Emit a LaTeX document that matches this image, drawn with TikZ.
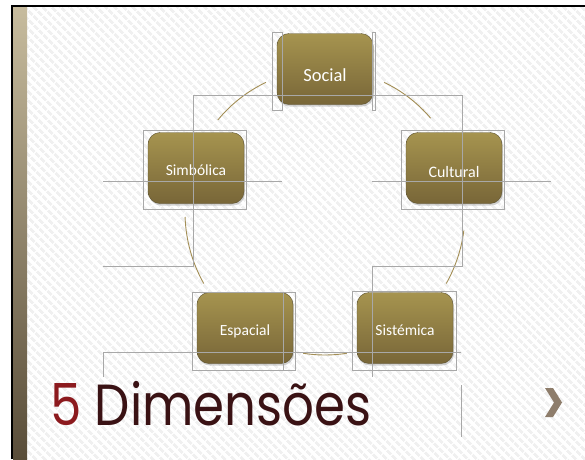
\documentclass[tikz,border=0pt]{standalone}
\usepackage{fontspec}
\setmainfont{Carlito}
\newfontfamily\titlefont[FakeStretch=0.86]{Poppins}
\usetikzlibrary{patterns.meta,shadows}

\definecolor{boxtop}{HTML}{A6944F}
\definecolor{boxbot}{HTML}{786638}
\definecolor{boxedge}{HTML}{5C5232}
\definecolor{bartop}{HTML}{C7BC9E}
\definecolor{barbot}{HTML}{594D39}
\definecolor{guidegray}{HTML}{A8A8A8}
\definecolor{ringtan}{HTML}{A38E55}
\definecolor{titlered}{HTML}{8C1A1E}
\definecolor{titlebrown}{HTML}{3A1214}
\definecolor{chevgray}{HTML}{8E7D6B}

\begin{document}
\begin{tikzpicture}[x=1pt,y=-1pt,
  dim/.style={draw=boxedge, rounded corners=12pt, top color=boxtop, bottom color=boxbot,
    minimum width=96pt, minimum height=71pt, text=white, text height=14pt, text depth=0pt,
    font=\fontsize{15.5}{18}\selectfont,
    drop shadow={opacity=0.35, shadow xshift=1pt, shadow yshift=-2pt}},
  guide/.style={draw=guidegray, line width=0.6pt},
  cycline/.style={draw=ringtan, line width=0.9pt}]
  \useasboundingbox (0,0) rectangle (585,459);
  % slide background
  \fill[white] (0,0) rectangle (585,459);
  \fill[pattern={Lines[angle=-45, distance=6.4pt, line width=3pt]}, pattern color=black!6] (27,7) rectangle (585,459);
  \shade[top color=bartop, bottom color=barbot] (13,7) rectangle (27,459);
  \draw[line width=2.2pt] (12,459) -- (12,6) -- (585,6);

  % the five dimensions
  \node[dim, font=\fontsize{18.5}{20}\selectfont, text height=24pt] (social) at (325,69) {Social};
  \node[dim, font=\fontsize{16}{18}\selectfont, text height=18pt] (cultural) at (454,168) {Cultural};
  \node[dim, text height=15pt] (simbolica) at (196,168) {Simbólica};
  \node[dim] (espacial) at (245,328) {Espacial};
  \node[dim] (sistemica) at (405,328) {Sistémica};

  % cycle
  \coordinate (hub) at (325,212);
  \draw[cycline] (hub) ++(-65:140 and 143) arc[start angle=-65, end angle=-41, x radius=140, y radius=143];
  \draw[cycline] (hub) ++(7.5:140 and 143) arc[start angle=7.5, end angle=30, x radius=140, y radius=143];
  \draw[cycline] (hub) ++(81:140 and 143) arc[start angle=81, end angle=99, x radius=140, y radius=143];
  \draw[cycline] (hub) ++(150:140 and 143) arc[start angle=150, end angle=178, x radius=140, y radius=143];
  \draw[cycline] (hub) ++(220:140 and 143) arc[start angle=220, end angle=245, x radius=140, y radius=143];

  % guides
  \draw[guide] (272,32) rectangle (282,110);
  \draw[guide] (372,32) rectangle (375,110);
  \draw[guide] (103,266) -- (193,266) -- (193,95) -- (462,95) -- (462,266) -- (372,266) -- (372,377);
  \draw[guide] (143,130) rectangle (246,209);
  \draw[guide] (401,130) rectangle (504,209);
  \draw[guide] (103,181) -- (282,181);
  \draw[guide] (372,181) -- (551,181);
  \draw[guide] (192,292) rectangle (295,370);
  \draw[guide] (283,292) -- (283,370);
  \draw[guide] (352,291) rectangle (456,370);
  \draw[guide] (103,377) -- (103,352) -- (461,352);
  \draw[guide] (461,385) -- (461,437);

  % title
  \node[anchor=base west, inner sep=0pt, font=\titlefont\fontsize{58}{60}\selectfont] (title) at (50,425)
    {\textcolor{titlered}{5} \textcolor{titlebrown}{Dimensões}};
  \fill[chevgray] (545,388) -- (553,388) -- (562,402.5) -- (553,417) -- (545,417) -- (554,402.5) -- cycle;
\end{tikzpicture}
\end{document}
